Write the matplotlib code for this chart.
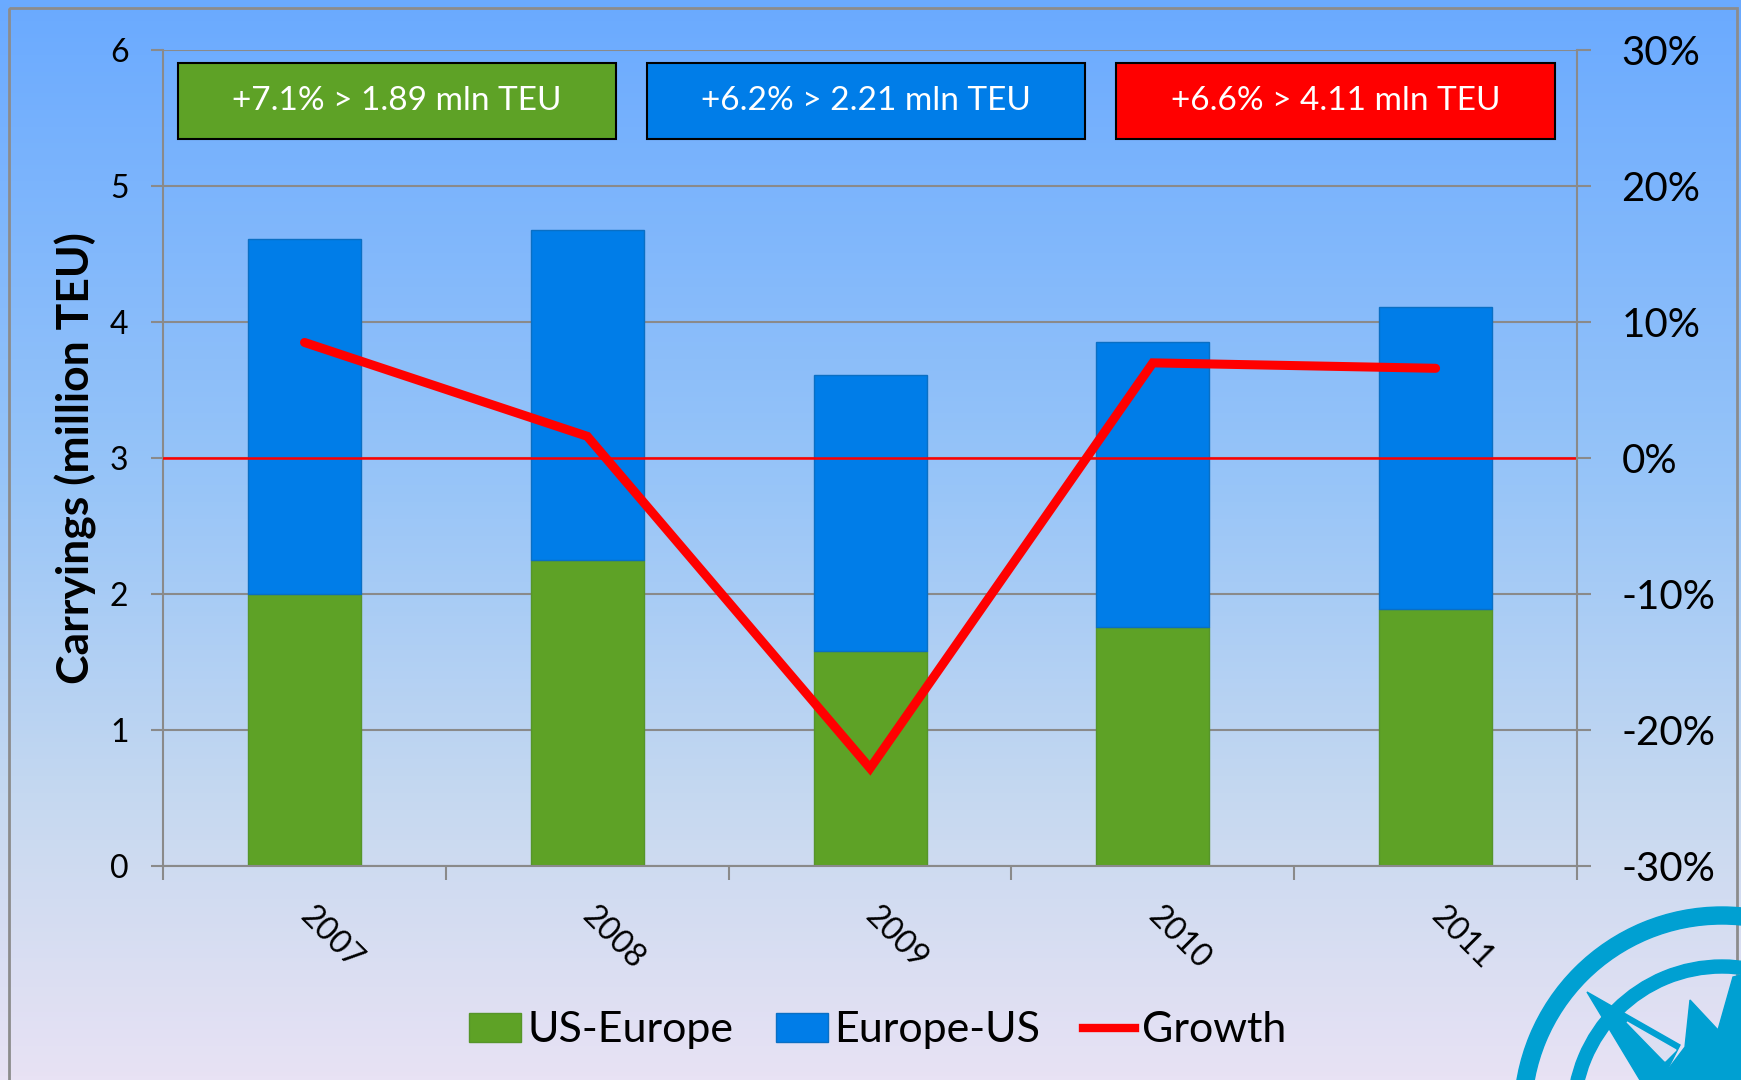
import numpy as np
import matplotlib
matplotlib.use("Agg")
import matplotlib.pyplot as plt
from matplotlib.patches import Rectangle, Polygon, Wedge
from matplotlib.colors import LinearSegmentedColormap
from matplotlib.lines import Line2D
from matplotlib.ticker import FuncFormatter

plt.rcParams['font.family'] = ['Lato', 'DejaVu Sans']

# data
years = ['2007', '2008', '2009', '2010', '2011']
us_europe = [2.00, 2.25, 1.58, 1.76, 1.89]
europe_us = [2.61, 2.43, 2.03, 2.09, 2.22]
growth = [8.5, 1.6, -22.8, 7.0, 6.6]  # percent
box_labels = ['+7.1% > 1.89 mln TEU', '+6.2% > 2.21 mln TEU', '+6.6% > 4.11 mln TEU']
box_colors = ['#5ea226', '#007de8', '#ff0000']

GREEN = '#5ea226'
BLUE = '#007de8'
RED = '#ff0000'
GRID = '#8a8a8a'

fig = plt.figure(figsize=(17.41, 10.8), dpi=100)

# background: gradient, frame and compass logo, in pixel coordinates
bg = fig.add_axes([0, 0, 1, 1], zorder=0)
bg.set_xlim(0, 1741)
bg.set_ylim(1080, 0)
bg.axis('off')
cmap = LinearSegmentedColormap.from_list(
    'bg', [(0, '#6aaaff'), (0.45, '#98c5f8'), (0.75, '#c7d9f0'), (1, '#e8e2f4')])
bg.imshow(np.linspace(0, 1, 256).reshape(-1, 1), cmap=cmap,
          extent=[0, 1741, 1080, 0], aspect='auto')
bg.add_patch(Rectangle((9, 8), 1728, 1200, fill=False, ec='#8c8c8c', lw=2))
logo = '#00a0d2'
bg.add_patch(Wedge((1722, 1115), 208, 0, 360, width=17, color=logo))
bg.add_patch(Wedge((1722, 1115), 155, 0, 360, width=13, color=logo))
bg.add_patch(Polygon([(1587, 992), (1680, 1045), (1662, 1080), (1640, 1080)],
                     color=logo))
bg.add_patch(Polygon([(1627, 1022), (1676, 1050), (1665, 1061)],
                     color='#dcdff2'))
bg.add_patch(Polygon([(1660, 1080), (1685, 1047), (1690, 1000), (1718, 1030),
                      (1733, 977), (1741, 975), (1741, 1080)], color=logo))

# main axes
ax = fig.add_axes([0.0937, 0.198, 0.8121, 0.7557], zorder=1)
ax.set_facecolor('none')
x = np.arange(len(years))
b1 = ax.bar(x, us_europe, 0.40, color=GREEN, edgecolor='#56952a', lw=1,
            label='US-Europe', zorder=2)
b2 = ax.bar(x, europe_us, 0.40, bottom=us_europe, color=BLUE,
            edgecolor='#0a6fc4', lw=1, label='Europe-US', zorder=2)
ax.set_xlim(-0.5, 4.5)
ax.set_ylim(0, 6)
ax.set_yticks(range(7))
ax.yaxis.grid(True, color=GRID, lw=1.5)
ax.set_axisbelow(True)

ax.set_xticks(np.arange(-0.5, 5, 1))
ax.set_xticklabels([])
ax.set_xticks(x, minor=True)
ax.set_xticklabels(years, minor=True, rotation=-45, ha='left', va='center',
                   rotation_mode='anchor', fontsize=23)
ax.tick_params(axis='x', which='minor', length=0, pad=33)
ax.tick_params(axis='x', which='major', length=10, width=1.5, color=GRID)
ax.tick_params(axis='y', length=9, width=1.5, color=GRID, labelsize=23, pad=16)
for side in ('left', 'bottom'):
    ax.spines[side].set_color(GRID)
    ax.spines[side].set_linewidth(1.5)
for side in ('top', 'right'):
    ax.spines[side].set_visible(False)
ax.set_ylabel('Carryings (million TEU)', fontsize=32, fontweight='bold')
ax.yaxis.set_label_coords(-0.047, 0.5)

# growth on the right axis
ax2 = ax.twinx()
ax2.set_ylim(-0.3, 0.3)
ax2.set_yticks(np.arange(-0.3, 0.31, 0.1))
ax2.yaxis.set_major_formatter(FuncFormatter(lambda v, p: f"{v * 100:.0f}%"))
ax2.tick_params(axis='y', length=10, width=1.5, color=GRID, labelsize=29, pad=22)
for side in ('left', 'bottom', 'top'):
    ax2.spines[side].set_visible(False)
ax2.spines['right'].set_color(GRID)
ax2.spines['right'].set_linewidth(1.5)
ax2.axhline(0, color=RED, lw=1.8, zorder=1)
ax2.plot(x, np.array(growth) / 100, color=RED, lw=6.5,
         solid_capstyle='round', solid_joinstyle='miter', zorder=3)

# summary boxes
for x0, label, color in zip([0.0102, 0.342, 0.674], box_labels, box_colors):
    ax2.add_patch(Rectangle((x0, 0.891), 0.3103, 0.0927, transform=ax2.transAxes,
                            fc=color, ec='black', lw=1.5, zorder=5))
    ax2.text(x0 + 0.3103 / 2, 0.937, label, transform=ax2.transAxes,
             ha='center', va='center', color='white', fontsize=24, zorder=6)

handles = [b1, b2, Line2D([], [], color=RED, lw=6)]
fig.legend(handles, ['US-Europe', 'Europe-US', 'Growth'], loc='center',
           bbox_to_anchor=(0.504, 0.046), ncol=3, frameon=False, fontsize=31,
           handlelength=1.2, handleheight=0.65, handletextpad=0.15,
           columnspacing=1.0)

fig.savefig('out.png', dpi=100)
